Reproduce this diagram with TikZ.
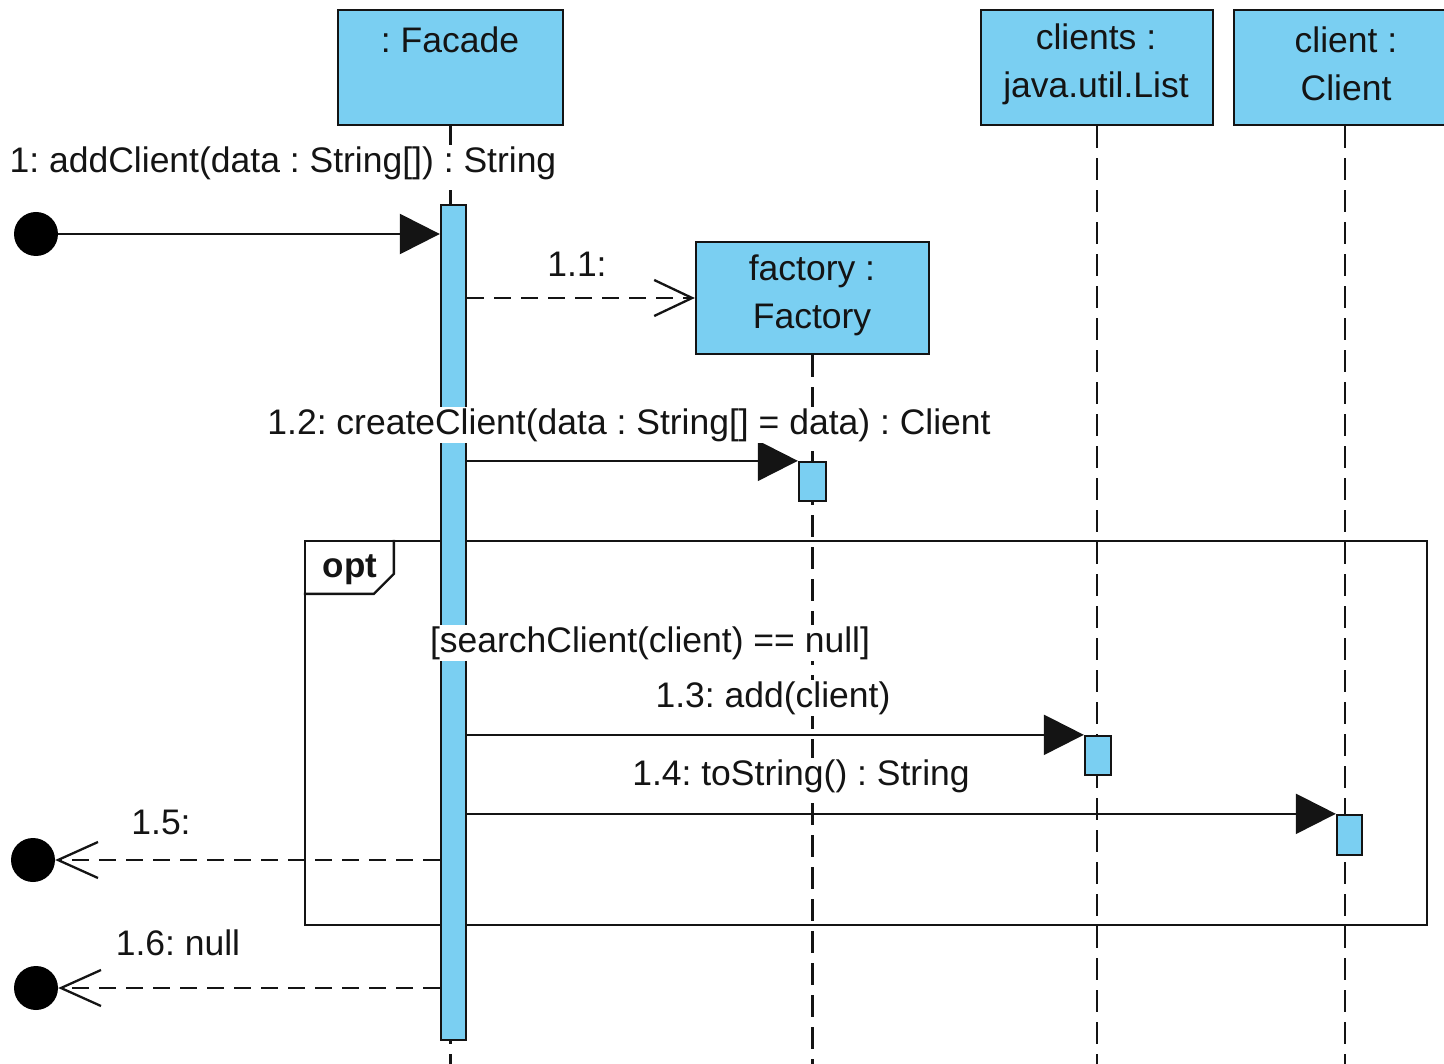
\documentclass[tikz,border=0pt]{standalone}
\usepackage{fontspec}
\setmainfont{Liberation Sans}
\usetikzlibrary{arrows.meta}
\definecolor{lb}{RGB}{122,207,242}
\definecolor{ink}{RGB}{20,20,20}
\frenchspacing
\begin{document}
\begin{tikzpicture}[x=1pt,y=-1pt,
  obj/.style={draw=ink, line width=2.3pt, fill=lb, inner sep=0pt},
  lbl/.style={font=\fontsize{35.5}{48}\selectfont, text=ink, inner sep=1.5pt, align=center},
  wlbl/.style={lbl, fill=white},
  life/.style={draw=ink, line width=2.3pt, dash pattern=on 22pt off 10pt},
  act/.style={draw=ink, line width=2.3pt, fill=lb, inner sep=0pt},
  sync/.style={draw=ink, line width=2.3pt, -{Triangle[length=40pt,width=40pt]}},
  create/.style={draw=ink, line width=2.3pt, dash pattern=on 17pt off 10pt, -{Straight Barb[length=38pt,width=36pt]}},
  reply/.style={draw=ink, line width=2.3pt, dash pattern=on 17pt off 10pt, -{Straight Barb[length=40pt,width=36pt]}},
  dot/.style={circle, fill=black, inner sep=0pt, minimum size=44pt}]
\useasboundingbox (0,0) rectangle (1444,1064);
\clip (0,0) rectangle (1444,1064);
\coordinate (bot) at (0,1064);
% lifeline heads
\node[obj, minimum width=225pt, minimum height=115pt] (fac) at (450.5,67.5) {};
\node[obj, minimum width=232pt, minimum height=115pt] (cls) at (1097,67.5) {};
\node[obj, minimum width=222pt, minimum height=115pt] (cl) at (1345,67.5) {};
\node[obj, minimum width=233pt, minimum height=112pt] (fb) at (812.5,298) {};
% lifelines
\draw[life] (fac.south) -- (fac.south |- bot);
\draw[life] (fb.south) -- (fb.south |- bot);
\draw[life] (cls.south) -- (cls.south |- bot);
\draw[life] (cl.south) -- (cl.south |- bot);
% opt frame
\node[draw=ink, line width=2.3pt, minimum width=1122pt, minimum height=384pt, inner sep=0pt] (frame) at (866,733) {};
\draw[draw=ink, line width=2.3pt] ([xshift=90pt]frame.north west) -- ++(0,34) -- ++(-20,20) -- ([yshift=-54pt]frame.north west);
\node[lbl, font=\fontsize{35}{48}\selectfont\bfseries] (opt) at (350,570) {opt};
% activations
\node[act, minimum width=25pt, minimum height=835pt] (fa) at (453.5,622.5) {};
\node[act, minimum width=27pt, minimum height=39pt] (ff) at (812.5,481.5) {};
\node[act, minimum width=26pt, minimum height=39pt] (ca) at (1098,755.5) {};
\node[act, minimum width=25pt, minimum height=40pt] (cla) at (1349.5,835) {};
% gates
\node[dot] (start) at (36,234) {};
\node[dot] (e1) at (33,860) {};
\node[dot] (e2) at (36,988) {};
% messages
\draw[sync] (start) -- (start -| fa.west);
\draw[create] (fb.west -| fa.east) -- (fb.west);
\draw[sync] (ff.north west -| fa.east) -- (ff.north west);
\draw[sync] (ca.north west -| fa.east) -- (ca.north west);
\draw[sync] (cla.north west -| fa.east) -- (cla.north west);
\draw[reply] (e1 -| fa.west) -- (e1);
\draw[reply] (e2 -| fa.west) -- (e2);
% texts
\node[lbl] (tfac) at (450,40) {: Facade};
\node[lbl] (tcls) at (1096,64) {clients :\\java.util.List};
\node[lbl] (tcl) at (1346,64) {client :\\Client};
\node[lbl] (tfb) at (812,295) {factory :\\Factory};
\node[wlbl] (m1) at (283,163) {1: addClient(data : String[]) : String};
\node[wlbl] (m11) at (577,264) {1.1:};
\node[wlbl] (m12) at (629,425) {1.2: createClient(data : String[] = data) : Client};
\node[wlbl] (guard) at (650,643) {[searchClient(client) == null]};
\node[wlbl] (m13) at (773,698) {1.3: add(client)};
\node[wlbl] (m14) at (801,776) {1.4: toString() : String};
\node[wlbl] (m15) at (161,822) {1.5:};
\node[wlbl] (m16) at (178,943) {1.6: null};
\end{tikzpicture}
\end{document}
